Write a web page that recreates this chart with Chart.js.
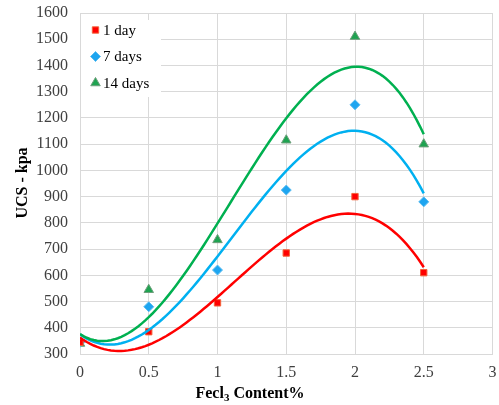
<!DOCTYPE html>
<html>
<head>
<meta charset="utf-8">
<script src="https://cdn.jsdelivr.net/npm/chart.js@4.4.1/dist/chart.umd.min.js"></script>
<style>
  body { margin: 0; background: #fff; }
  #wrap { width: 499px; height: 405px; }
</style>
</head>
<body>
<div id="wrap"><canvas id="ucsChart"></canvas></div>
<script>
// FeCl3 content (%) and UCS results (kPa)
const content = [0, 0.5, 1, 1.5, 2, 2.5];
const ucs1Day = [345, 385, 495, 685, 900, 610];
const ucs7Days = [345, 480, 620, 925, 1250, 880];
const ucs14Days = [340, 545, 735, 1115, 1510, 1100];

const seriesNames = ['1 day', '7 days', '14 days'];
const xTicks = [0, 0.5, 1, 1.5, 2, 2.5, 3];
const yTicks = [300, 400, 500, 600, 700, 800, 900, 1000, 1100, 1200, 1300, 1400, 1500, 1600];

const RED = '#ff0000';
const BLUE = '#00b0f0';
const GREEN = '#00b050';
const FONT = "'Liberation Serif', 'Times New Roman', 'DejaVu Serif', serif";

// least squares polynomial (order 3 trendline)
function polyFit(xs, ys, order) {
  const n = order + 1;
  const A = [];
  for (let i = 0; i < n; i++) {
    A.push(new Array(n + 1).fill(0));
    for (let j = 0; j < n; j++) {
      A[i][j] = xs.reduce((s, x) => s + Math.pow(x, i + j), 0);
    }
    A[i][n] = xs.reduce((s, x, k) => s + Math.pow(x, i) * ys[k], 0);
  }
  for (let c = 0; c < n; c++) {
    let p = c;
    for (let r = c + 1; r < n; r++) if (Math.abs(A[r][c]) > Math.abs(A[p][c])) p = r;
    [A[c], A[p]] = [A[p], A[c]];
    for (let r = 0; r < n; r++) {
      if (r === c) continue;
      const f = A[r][c] / A[c][c];
      for (let k = c; k <= n; k++) A[r][k] -= f * A[c][k];
    }
  }
  return A.map((row, i) => row[n] / row[i]);
}

function trendline(ys) {
  const coef = polyFit(content, ys, 3);
  const pts = [];
  const x0 = content[0], x1 = content[content.length - 1];
  for (let i = 0; i <= 100; i++) {
    const x = x0 + (x1 - x0) * i / 100;
    pts.push({ x: x, y: coef.reduce((s, c, k) => s + c * Math.pow(x, k), 0) });
  }
  return pts;
}

function points(ys) {
  return content.map((x, i) => ({ x: x, y: ys[i] }));
}

function lineSet(ys, color) {
  return {
    data: trendline(ys),
    showLine: true,
    borderColor: color,
    borderWidth: 2.5,
    pointRadius: 0,
    fill: false,
    tension: 0
  };
}

const markers = [
  { style: 'rect', color: '#ff0000', border: '#f4623a', radius: 4.5 },
  { style: 'rectRot', color: '#1ea5f0', border: '#5bbcf0', radius: 5 },
  { style: 'triangle', color: '#1fa351', border: '#6e9f7c', radius: 5.5 }
];

function pointSet(ys, m) {
  return {
    data: points(ys),
    showLine: false,
    pointStyle: m.style,
    pointRadius: m.radius,
    pointBackgroundColor: m.color,
    pointBorderColor: m.border,
    pointBorderWidth: 1
  };
}

// legend in the top left corner of the plot, markers only
const cornerLegend = {
  id: 'cornerLegend',
  afterDraw(chart) {
    const ctx = chart.ctx;
    const a = chart.chartArea;
    ctx.save();
    ctx.fillStyle = '#fff';
    ctx.fillRect(a.left + 1, a.top + 7, 80, 77);
    ctx.font = '15px ' + FONT;
    ctx.textBaseline = 'middle';
    seriesNames.forEach((name, i) => {
      const y = a.top + 17 + i * 26.5;
      const m = markers[i];
      ctx.fillStyle = m.color;
      ctx.strokeStyle = m.border;
      ctx.lineWidth = 1;
      Chart.helpers.drawPoint(ctx, {
        pointStyle: m.style, radius: m.radius, borderWidth: 1, rotation: 0
      }, a.left + 15.5, y);
      ctx.fillStyle = '#000';
      ctx.fillText(name, a.left + 23, y + 1);
    });
    ctx.restore();
  }
};

// axis titles (x title carries a subscript 3)
const axisTitles = {
  id: 'axisTitles',
  afterDraw(chart) {
    const ctx = chart.ctx;
    ctx.save();
    ctx.fillStyle = '#000';
    ctx.textBaseline = 'alphabetic';
    const big = 'bold 16px ' + FONT, small = 'bold 11px ' + FONT;
    const a = 'Fecl', b = '3', c = ' Content%';
    ctx.font = big;
    const wa = ctx.measureText(a).width, wc = ctx.measureText(c).width;
    ctx.font = small;
    const wb = ctx.measureText(b).width;
    let x = 250 - (wa + wb + wc) / 2;
    const y = 398;
    ctx.font = big;
    ctx.fillText(a, x, y);
    x += wa;
    ctx.font = small;
    ctx.fillText(b, x, y + 3);
    x += wb;
    ctx.font = big;
    ctx.fillText(c, x, y);

    ctx.translate(27, 183);
    ctx.rotate(-Math.PI / 2);
    ctx.textAlign = 'center';
    ctx.fillText('UCS - kpa', 0, 0);
    ctx.restore();
  }
};

function drawChart() {
  new Chart(document.getElementById('ucsChart'), {
    type: 'scatter',
    data: {
      datasets: [
        lineSet(ucs14Days, GREEN),
        lineSet(ucs7Days, BLUE),
        lineSet(ucs1Day, RED),
        pointSet(ucs1Day, markers[0]),
        pointSet(ucs7Days, markers[1]),
        pointSet(ucs14Days, markers[2])
      ]
    },
    options: {
      responsive: true,
      maintainAspectRatio: false,
      animation: false,
      layout: { padding: { top: 13, right: 3, left: 0, bottom: 0 } },
      plugins: {
        legend: { display: false },
        tooltip: { enabled: false }
      },
      scales: {
        x: {
          type: 'linear',
          min: 0,
          max: 3,
          afterBuildTicks(scale) { scale.ticks = xTicks.map(v => ({ value: v })); },
          afterFit(scale) {
            scale.height = 51;
            scale.paddingLeft = 0;
            scale.paddingRight = 0;
          },
          ticks: {
            color: '#404040', font: { family: FONT, size: 16 }, padding: 9,
            callback: v => String(v)
          },
          grid: { color: '#d9d9d9', lineWidth: 1, drawTicks: false },
          border: { color: '#d9d9d9' }
        },
        y: {
          min: 300,
          max: 1600,
          afterBuildTicks(scale) { scale.ticks = yTicks.map(v => ({ value: v })); },
          afterFit(scale) {
            scale.width = 80;
            scale.paddingTop = 0;
            scale.paddingBottom = 0;
          },
          ticks: {
            color: '#404040', font: { family: FONT, size: 16 }, padding: 12,
            callback: v => String(v)
          },
          grid: { color: '#d9d9d9', lineWidth: 1, drawTicks: false },
          border: { color: '#d9d9d9' }
        }
      }
    },
    plugins: [cornerLegend, axisTitles]
  });
}

document.fonts.load("16px 'Liberation Serif'").then(drawChart, drawChart);
</script>
</body>
</html>
